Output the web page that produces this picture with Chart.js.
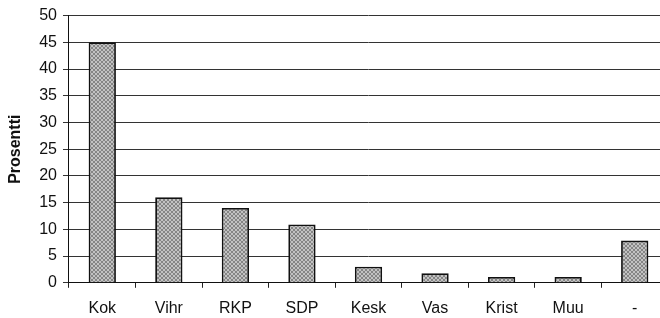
<!DOCTYPE html>
<html>
<head>
<meta charset="utf-8">
<script src="https://cdn.jsdelivr.net/npm/chart.js@4"></script>
<style>
	html, body { margin: 0; padding: 0; background: #fff; overflow: hidden; }
	#wrap { width: 668px; height: 329px; }
</style>
</head>
<body>
<div id="wrap"><canvas id="chart" width="668" height="329"></canvas></div>
<script>
const categories = ['Kok', 'Vihr', 'RKP', 'SDP', 'Kesk', 'Vas', 'Krist', 'Muu', '-'];
const values = [45, 16, 14, 10.9, 3, 1.8, 1.1, 1.1, 7.9];
const yTicks = [0, 5, 10, 15, 20, 25, 30, 35, 40, 45, 50];

// stippled grey fill like the scanned original
function makePattern() {
	const c = document.createElement('canvas');
	c.width = 4;
	c.height = 4;
	const g = c.getContext('2d');
	g.fillStyle = '#c2c2c2';
	g.fillRect(0, 0, 4, 4);
	g.fillStyle = '#858585';
	[[0, 0], [2, 1], [1, 2], [3, 3], [3, 0], [1, 1], [0, 3], [2, 2]].forEach(([x, y]) => g.fillRect(x, y, 1, 1));
	return g.createPattern(c, 'repeat');
}

const font = { family: 'Liberation Sans, Arial, sans-serif', size: 16 };

new Chart(document.getElementById('chart'), {
	type: 'bar',
	data: {
		labels: categories,
		datasets: [
			{
				data: values,
				backgroundColor: makePattern(),
				borderColor: '#111',
				borderWidth: 1.8,
				categoryPercentage: 1,
				barPercentage: 0.41,
			},
		],
	},
	options: {
		responsive: false,
		animation: false,
		layout: { padding: { top: 4, right: 0, bottom: 0, left: 6 } },
		plugins: { legend: { display: false }, tooltip: { enabled: false } },
		scales: {
			x: {
				offset: true,
				grid: { offset: true, drawOnChartArea: false, drawTicks: true, tickLength: 5, color: '#222' },
				border: { color: '#111', width: 1 },
				ticks: { color: '#111', font: font, padding: 11 },
			},
			y: {
				min: 0,
				max: 50,
				afterBuildTicks: (axis) => {
					axis.ticks = yTicks.map((v) => ({ value: v }));
				},
				grid: { color: '#333', lineWidth: 1, tickLength: 6 },
				border: { color: '#111', width: 1 },
				ticks: { color: '#111', font: font, padding: 6 },
				title: {
					display: true,
					text: 'Prosentti',
					color: '#111',
					font: { family: font.family, size: 16, weight: 'bold' },
					padding: { top: 0, bottom: 8 },
				},
			},
		},
	},
});
</script>
</body>
</html>
